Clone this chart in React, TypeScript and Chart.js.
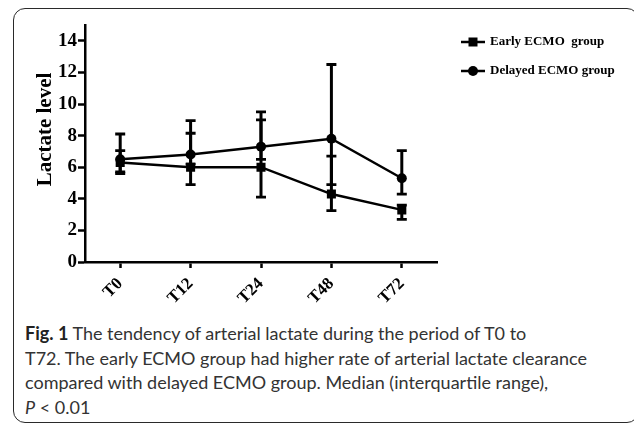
import React, { useEffect, useRef } from 'react';
import { Chart, registerables } from 'chart.js';

Chart.register(...registerables);

const categories = ['T0', 'T12', 'T24', 'T48', 'T72'];
const earlyMedian = [6.3, 6.0, 6.0, 4.3, 3.3];
const earlyLow = [5.7, 4.9, 4.1, 3.25, 2.7];
const earlyHigh = [7.05, 8.15, 9.0, 6.7, 3.6];
const delayedMedian = [6.5, 6.8, 7.3, 7.8, 5.3];
const delayedLow = [5.6, 6.2, 6.5, 4.9, 4.3];
const delayedHigh = [8.1, 8.95, 9.5, 12.5, 7.05];
const yTicks = [0, 2, 4, 6, 8, 10, 12, 14];
const yMin = 0;
const yMax = 15;
const seriesNames = ['Early ECMO  group', 'Delayed ECMO group'];
const yTitle = 'Lactate level';

const SERIF = '"Liberation Serif", "Times New Roman", serif';

const errorBarPlugin = {
  id: 'errorBars',
  beforeDatasetsDraw(chart: any) {
    const { ctx, scales } = chart;
    const x = scales.x;
    const y = scales.y;
    ctx.save();
    ctx.strokeStyle = '#000';
    chart.data.datasets.forEach((ds: any) => {
      ds.data.forEach((_v: number, i: number) => {
        const px = x.getPixelForValue(i);
        const lo = y.getPixelForValue(ds.low[i]);
        const hi = y.getPixelForValue(ds.high[i]);
        ctx.lineWidth = 3;
        ctx.beginPath();
        ctx.moveTo(px, lo);
        ctx.lineTo(px, hi);
        ctx.stroke();
        ctx.lineWidth = 2.8;
        ctx.beginPath();
        ctx.moveTo(px - 5, lo);
        ctx.lineTo(px + 5, lo);
        ctx.moveTo(px - 5, hi);
        ctx.lineTo(px + 5, hi);
        ctx.stroke();
      });
    });
    ctx.restore();
  },
};

const titleAndLegendPlugin = {
  id: 'sideLegend',
  afterDraw(chart: any) {
    const { ctx, chartArea } = chart;
    ctx.save();
    // y-axis title
    ctx.translate(46, (chartArea.top + chartArea.bottom) / 2 - 14);
    ctx.rotate(-Math.PI / 2);
    ctx.font = 'bold 21px ' + SERIF;
    ctx.fillStyle = '#000';
    ctx.textAlign = 'center';
    ctx.textBaseline = 'middle';
    ctx.fillText(yTitle, 0, 0);
    ctx.restore();

    ctx.save();
    chart.data.datasets.forEach((ds: any, i: number) => {
      const x0 = chartArea.right + 24;
      const yy = chartArea.top + 17 + i * 29;
      ctx.strokeStyle = '#000';
      ctx.lineWidth = 2.5;
      ctx.beginPath();
      ctx.moveTo(x0, yy);
      ctx.lineTo(x0 + 24, yy);
      ctx.stroke();
      ctx.fillStyle = '#000';
      ctx.beginPath();
      if (ds.pointStyle === 'rect') {
        ctx.rect(x0 + 12 - 4.5, yy - 4.5, 9, 9);
      } else {
        ctx.arc(x0 + 12, yy, 5, 0, Math.PI * 2);
      }
      ctx.fill();
      ctx.font = 'bold 13px ' + SERIF;
      ctx.textBaseline = 'middle';
      ctx.textAlign = 'left';
      ctx.fillText(ds.label, x0 + 29, yy);
    });
    ctx.restore();
  },
};

export default function App() {
  const ref = useRef<HTMLCanvasElement | null>(null);

  useEffect(() => {
    if (!ref.current) return;
    const chart = new Chart(ref.current, {
      type: 'line',
      data: {
        labels: categories,
        datasets: [
          {
            label: seriesNames[0],
            data: earlyMedian,
            low: earlyLow,
            high: earlyHigh,
            borderColor: '#000',
            backgroundColor: '#000',
            borderWidth: 2.5,
            pointStyle: 'rect',
            pointRadius: 6.4,
            pointBorderWidth: 0,
          } as any,
          {
            label: seriesNames[1],
            data: delayedMedian,
            low: delayedLow,
            high: delayedHigh,
            borderColor: '#000',
            backgroundColor: '#000',
            borderWidth: 2.5,
            pointStyle: 'circle',
            pointRadius: 5,
            pointBorderWidth: 0,
          } as any,
        ],
      },
      options: {
        animation: false,
        responsive: false,
        maintainAspectRatio: false,
        layout: { padding: { left: 0, top: 25, right: 197, bottom: 0 } },
        plugins: {
          legend: { display: false },
          tooltip: { enabled: false },
        },
        scales: {
          x: {
            type: 'category',
            offset: true,
            afterFit: (s: any) => {
              s.height = 48;
            },
            grid: {
              drawOnChartArea: false,
              drawTicks: true,
              tickLength: 6,
              tickWidth: 2.5,
              tickColor: '#000',
              offset: false,
            },
            border: { display: true, color: '#000', width: 2.5 },
            ticks: {
              color: '#000',
              font: { family: SERIF, weight: 'bold', size: 17 },
              minRotation: 45,
              maxRotation: 45,
              padding: 6,
            },
          },
          y: {
            min: yMin,
            max: yMax,
            afterFit: (s: any) => {
              s.width = 85;
            },
            afterBuildTicks: (s: any) => {
              s.ticks = yTicks.map((v) => ({ value: v }));
            },
            grid: {
              drawOnChartArea: false,
              drawTicks: true,
              tickLength: 7,
              tickWidth: 2.5,
              tickColor: '#000',
            },
            border: { display: true, color: '#000', width: 2.5 },
            ticks: {
              color: '#000',
              font: { family: SERIF, weight: 'bold', size: 19 },
              padding: 1,
            },
            title: { display: false },
          },
        },
      } as any,
      plugins: [errorBarPlugin, titleAndLegendPlugin],
    });
    return () => chart.destroy();
  }, []);

  return (
    <div style={{ position: 'absolute', left: 0, top: 0, width: 634, height: 426, background: '#fff', overflow: 'hidden' }}>
      <div
        style={{
          position: 'absolute',
          left: 13,
          top: 8,
          width: 626,
          height: 415,
          border: '1.5px solid #2a2a2a',
          borderRadius: 12,
          boxSizing: 'border-box',
        }}
      />
      <canvas ref={ref} width={634} height={310} style={{ position: 'absolute', left: 0, top: 0, width: 634, height: 310 }} />
      <div
        style={{
          position: 'absolute',
          left: 25,
          top: 321,
          fontFamily: 'Lato, "Open Sans", sans-serif',
          fontSize: 18,
          lineHeight: '24.5px',
          color: '#333',
          whiteSpace: 'nowrap',
        }}
      >
        <span style={{ fontWeight: 'bold', color: '#222' }}>Fig. 1</span> The tendency of arterial lactate during the period of T0 to
        <br />
        T72. The early ECMO group had higher rate of arterial lactate clearance
        <br />
        compared with delayed ECMO group. Median (interquartile range),
        <br />
        <i>P</i> &lt; 0.01
      </div>
    </div>
  );
}
